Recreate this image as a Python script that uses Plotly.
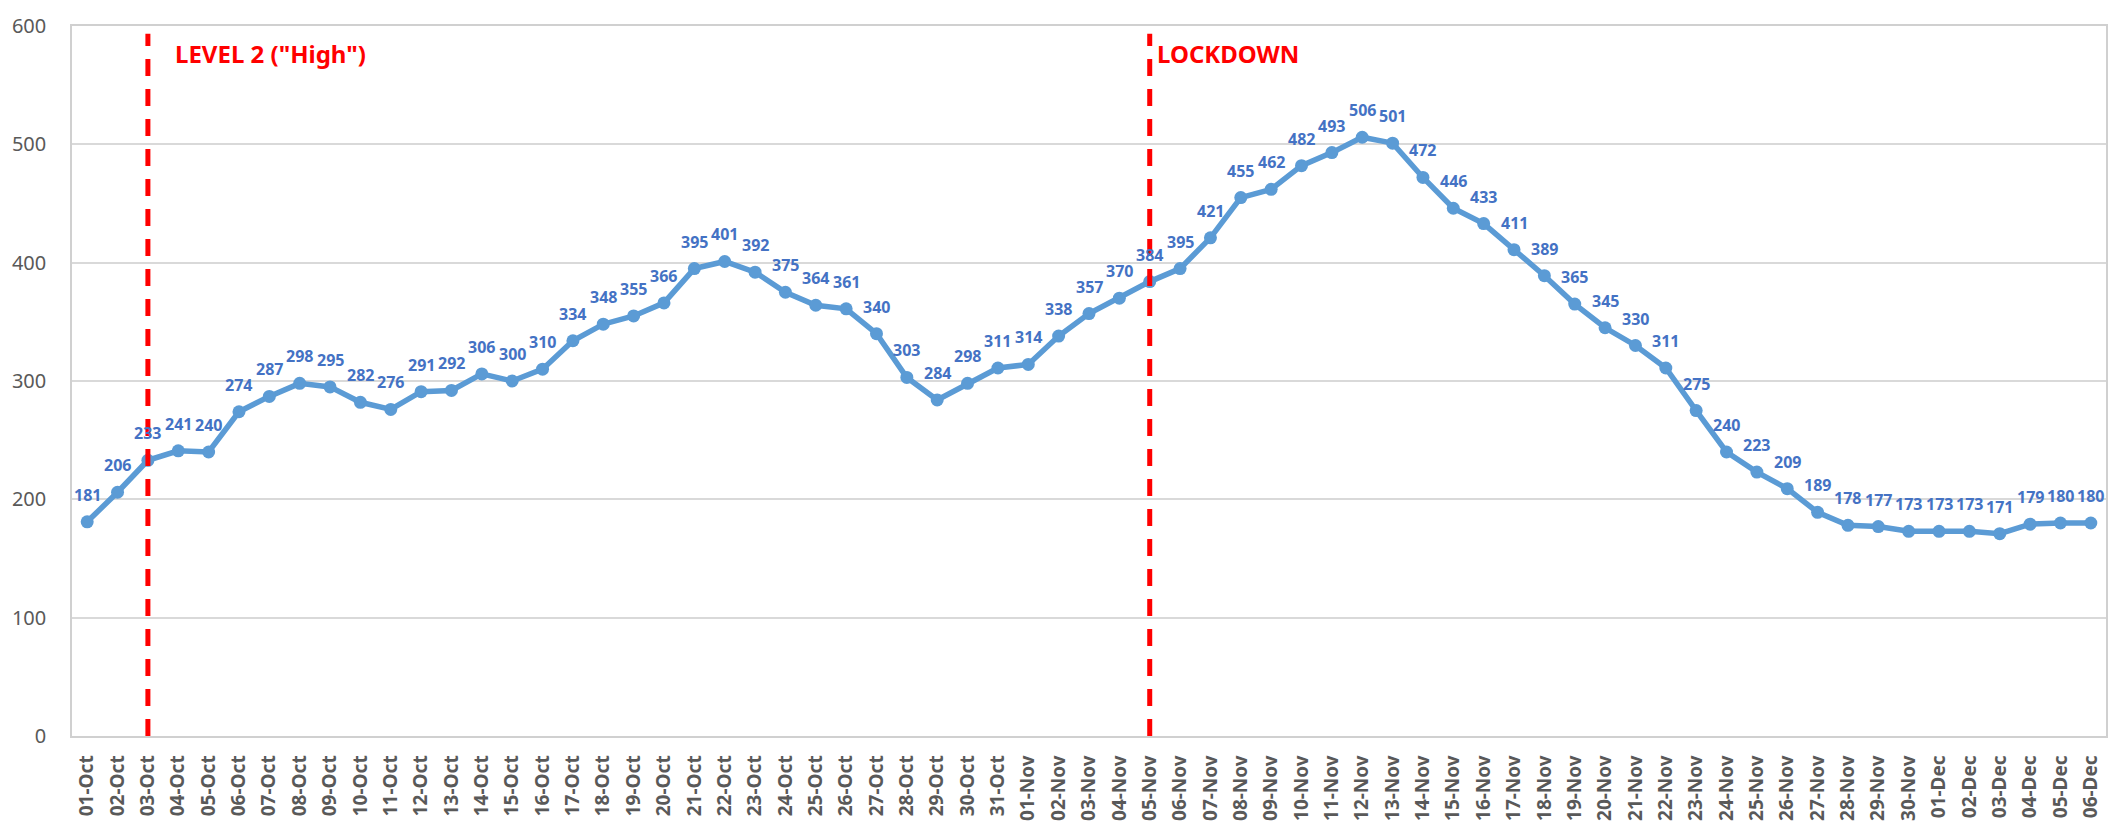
import plotly.graph_objects as go

dates = (
    [f"{d:02d}-Oct" for d in range(1, 32)]
    + [f"{d:02d}-Nov" for d in range(1, 31)]
    + [f"{d:02d}-Dec" for d in range(1, 7)]
)
values = [
    181, 206, 233, 241, 240, 274, 287, 298, 295, 282, 276, 291, 292, 306, 300, 310,
    334, 348, 355, 366, 395, 401, 392, 375, 364, 361, 340, 303, 284, 298, 311,
    314, 338, 357, 370, 384, 395, 421, 455, 462, 482, 493, 506, 501, 472, 446, 433,
    411, 389, 365, 345, 330, 311, 275, 240, 223, 209, 189, 178, 177, 173,
    173, 173, 171, 179, 180, 180,
]
events = ["03-Oct", "05-Nov"]
event_labels = ['LEVEL 2 ("High")', "LOCKDOWN"]
event_offsets = [25, 5]
y_ticks = [0, 100, 200, 300, 400, 500, 600]

xs = list(range(len(dates)))
FONT = "Noto Sans"

fig = go.Figure()
fig.add_trace(go.Scatter(
    x=xs, y=values, mode="lines+markers",
    line=dict(color="#5B9BD5", width=5.5),
    marker=dict(color="#5B9BD5", size=13),
    hoverinfo="skip", showlegend=False,
))

for x, v in zip(xs, values):
    fig.add_annotation(
        x=x, y=v, xref="x", yref="y", text=str(v), showarrow=False,
        yshift=27, font=dict(family=FONT, size=16, color="#4472C4", weight="bold"),
    )

for ev, lab, off in zip(events, event_labels, event_offsets):
    xi = dates.index(ev)
    fig.add_shape(
        type="line", xref="x", yref="paper", x0=xi, x1=xi, y0=0, y1=0.989,
        line=dict(color="#FF0000", width=5, dash="17px,13px"),
    )
    fig.add_annotation(
        x=xi, y=1, xref="x", yref="paper", text=lab, showarrow=False,
        xanchor="left", yanchor="middle", xshift=off, yshift=-27,
        font=dict(family=FONT, size=24, color="#FF0000", weight="bold"),
    )

fig.update_layout(
    width=2120, height=833,
    margin=dict(l=68, r=13, t=18, b=87),
    paper_bgcolor="white", plot_bgcolor="white",
    font=dict(family=FONT),
)
fig.update_xaxes(
    range=[-0.5, len(dates) - 0.5],
    tickmode="array", tickvals=xs, ticktext=dates, tickangle=-90,
    tickfont=dict(family=FONT, size=19, color="#595959", weight="bold"),
    showgrid=False, showline=True, linecolor="#D0D0D0", linewidth=1.5, mirror=True,
    ticks="", zeroline=False, ticklabelstandoff=10,
)
fig.update_yaxes(
    range=[0, 600], tickmode="array", tickvals=y_ticks,
    tickfont=dict(family=FONT, size=20, color="#595959"),
    showgrid=True, gridcolor="#D9D9D9", gridwidth=1.5,
    showline=True, linecolor="#D0D0D0", linewidth=1.5, mirror=True,
    ticks="", zeroline=False, ticklabelstandoff=20,
)

fig.write_html(
    "out.html",
    config={"displayModeBar": False},
    post_script="document.body.style.margin='0';document.body.style.overflow='hidden';",
)
